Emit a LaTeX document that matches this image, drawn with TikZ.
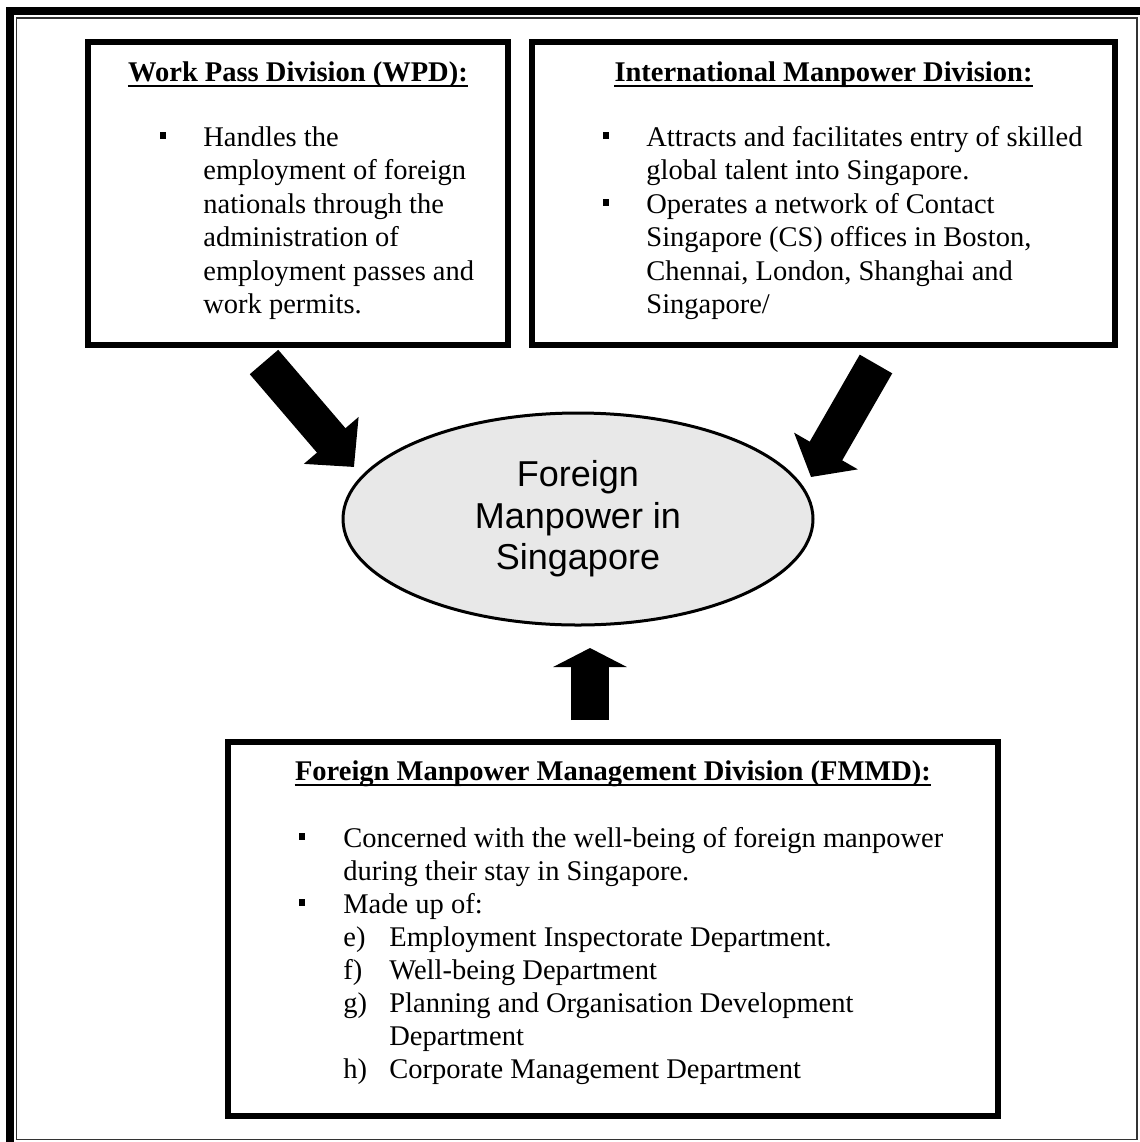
\documentclass[tikz,border=0pt]{standalone}
\usepackage{fontspec}
\setmainfont{Liberation Serif}
\newfontfamily\arialf{Liberation Sans}
\usetikzlibrary{shapes.geometric,arrows.meta}
\definecolor{ellfill}{RGB}{232,232,232}
\begin{document}
\begin{tikzpicture}[x=0.5pt,y=-0.5pt,
  box/.style={draw, line width=2.75pt, inner sep=0pt},
  txt/.style={anchor=base west, inner sep=0pt, font=\fontsize{14.25pt}{16.75pt}\selectfont},
  hd/.style={anchor=base, inner sep=0pt, font=\fontsize{14.25pt}{16.75pt}\selectfont\bfseries},
  bul/.style={fill=black, inner sep=0pt, minimum size=3.3pt},
  ul/.style={line width=1pt},
  bigarrow/.style={line width=18.75pt}]
% canvas
\fill[white] (0,0) rectangle (1140,1142);
\useasboundingbox (0,0) rectangle (1140,1142);
% page border
\draw[line width=4pt, line join=miter] (10,1142) -- (10,11) -- (1140,11);
\draw[line width=0.9pt, black!80] (16.5,18) rectangle (1137,1139.5);

% boxes
\node[box, minimum width=210pt, minimum height=151.5pt] (wpd) at (298,193.5) {};
\node[box, minimum width=291.5pt, minimum height=151.5pt] (imd) at (823.5,193.5) {};
\node[box, minimum width=385pt, minimum height=187pt] (fmmd) at (613,929) {};

% ellipse
\node[ellipse, draw, line width=1.5pt, fill=ellfill, minimum width=235pt, minimum height=106pt,
  inner sep=0pt, align=center, font=\arialf\fontsize{18pt}{20.75pt}\selectfont]
  (fm) at (578,519) {Foreign\\Manpower in\\Singapore};

% WPD text
\node[hd] (wpdh) at (298,81) {Work Pass Division (WPD):};
\draw[ul] ([yshift=-2.5pt]wpdh.base west) -- ([yshift=-2.5pt]wpdh.base east);
\node[bul] (wb1) at (163,135.5) {};
\node[txt] (w1) at (203,146) {Handles the};
\node[txt] (w2) at (203,179.5) {employment of foreign};
\node[txt] (w3) at (203,213) {nationals through the};
\node[txt] (w4) at (203,246.5) {administration of};
\node[txt] (w5) at (203,280) {employment passes and};
\node[txt] (w6) at (203,313.5) {work permits.};

% IMD text
\node[hd] (imdh) at (823.5,81) {International Manpower Division:};
\draw[ul] ([yshift=-2.5pt]imdh.base west) -- ([yshift=-2.5pt]imdh.base east);
\node[bul] (ib1) at (606,135.5) {};
\node[txt] (i1) at (646,146) {Attracts and facilitates entry of skilled};
\node[txt] (i2) at (646,179.5) {global talent into Singapore.};
\node[bul] (ib2) at (606,202.5) {};
\node[txt] (i3) at (646,213) {Operates a network of Contact};
\node[txt] (i4) at (646,246.5) {Singapore (CS) offices in Boston,};
\node[txt] (i5) at (646,280) {Chennai, London, Shanghai and};
\node[txt] (i6) at (646,313.5) {Singapore/};

% FMMD text
\node[hd] (fmh) at (613,780) {Foreign Manpower Management Division (FMMD):};
\draw[ul] ([yshift=-2.5pt]fmh.base west) -- ([yshift=-2.5pt]fmh.base east);
\node[bul] (fb1) at (302,836.5) {};
\node[txt] (f1) at (343,847) {Concerned with the well-being of foreign manpower};
\node[txt] (f2) at (343,880) {during their stay in Singapore.};
\node[bul] (fb2) at (302,902.5) {};
\node[txt] (f3) at (343,913) {Made up of:};
\node[txt] (fe) at (343,946) {e)};
\node[txt] (f4) at (389,946) {Employment Inspectorate Department.};
\node[txt] (ff) at (343,979) {f)};
\node[txt] (f5) at (389,979) {Well-being Department};
\node[txt] (fg) at (343,1012) {g)};
\node[txt] (f6) at (389,1012) {Planning and Organisation Development};
\node[txt] (f7) at (389,1045) {Department};
\node[txt] (fh) at (343,1078) {h)};
\node[txt] (f8) at (389,1078) {Corporate Management Department};

% arrows
\coordinate (a1s) at (264,362);
\coordinate (a1e) at (354,467);
\coordinate (a2s) at (876,364);
\coordinate (a2e) at (811,477);
\coordinate (a3s) at (590,720);
\coordinate (a3e) at (590,648);
\draw[bigarrow, -{Triangle[length=17.5pt,width=35pt]}] (a1s) -- (a1e);
\draw[bigarrow, -{Triangle[length=15pt,width=36pt]}] (a2s) -- (a2e);
\draw[bigarrow, -{Triangle[length=9.5pt,width=36.5pt]}] (a3s) -- (a3e);
\end{tikzpicture}
\end{document}
